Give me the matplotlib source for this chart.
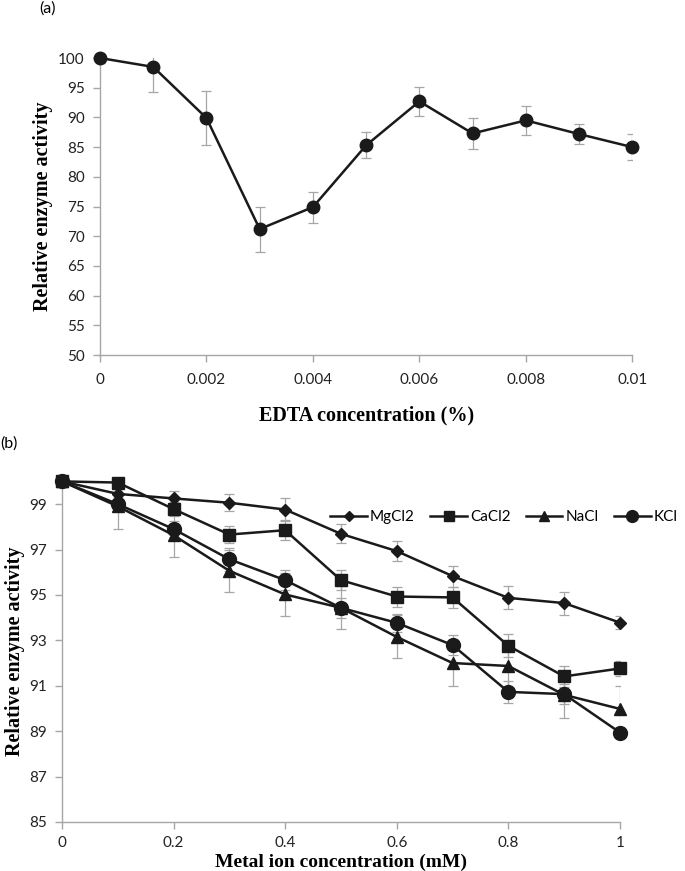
import numpy as np
import matplotlib
matplotlib.use("Agg")
import matplotlib.pyplot as plt

# panel (a): EDTA
edta_conc = [0, 0.001, 0.002, 0.003, 0.004, 0.005, 0.006, 0.007, 0.008, 0.009, 0.01]
edta_act = [100, 98.5, 89.9, 71.2, 74.9, 85.3, 92.7, 87.3, 89.5, 87.2, 85.0]
edta_err = [0.8, 4.2, 4.5, 3.8, 2.6, 2.2, 2.4, 2.6, 2.5, 1.7, 2.2]

# panel (b): metal ions
metal_conc = [0, 0.1, 0.2, 0.3, 0.4, 0.5, 0.6, 0.7, 0.8, 0.9, 1.0]
mgcl2 = [100, 99.45, 99.25, 99.06, 98.76, 97.69, 96.93, 95.83, 94.87, 94.64, 93.78]
mgcl2_err = [0.1, 0.3, 0.32, 0.37, 0.49, 0.42, 0.44, 0.46, 0.51, 0.51, 0.3]
cacl2 = [100, 99.95, 98.78, 97.66, 97.85, 95.65, 94.93, 94.89, 92.76, 91.41, 91.76]
cacl2_err = [0.1, 0.3, 0.3, 0.37, 0.45, 0.43, 0.44, 0.45, 0.5, 0.47, 0.32]
nacl = [100, 98.9, 97.63, 96.06, 95.02, 94.43, 93.15, 92.0, 91.87, 90.6, 89.98]
nacl_err = [0.1, 1.0, 0.95, 0.93, 0.96, 0.95, 0.95, 1.0, 1.0, 1.0, 1.0]
kcl = [100, 99.0, 97.9, 96.57, 95.65, 94.43, 93.77, 92.79, 90.73, 90.63, 88.94]
kcl_err = [0.1, 0.3, 0.35, 0.5, 0.45, 0.45, 0.4, 0.45, 0.5, 0.45, 0.2]
metal_names = ["MgCl2", "CaCl2", "NaCl", "KCl"]

tick_font = "Lato"
label_font = dict(family="Liberation Serif", weight="bold", size=14.5)
grey = "#a6a6a6"
ink = "#1a1a1a"


def style_axes(ax):
    for s in ["top", "right"]:
        ax.spines[s].set_visible(False)
    for s in ["left", "bottom"]:
        ax.spines[s].set_color(grey)
        ax.spines[s].set_linewidth(1.0)
    ax.tick_params(colors=grey, labelcolor="#222222", direction="out", length=5, width=1.0,
                   labelsize=11)
    ax.tick_params(axis="y", pad=6)
    for lab in ax.get_xticklabels() + ax.get_yticklabels():
        lab.set_family(tick_font)


fig = plt.figure(figsize=(6.85, 8.71), dpi=100)

# ---- (a)
ax1 = fig.add_axes([0.146, 0.5924, 0.777, 0.341])
ax1.errorbar(edta_conc, edta_act, yerr=edta_err, fmt="none", ecolor=grey, elinewidth=0.9,
             capsize=3.5, capthick=0.9)
ax1.plot(edta_conc, edta_act, color=ink, lw=1.8, marker="o", ms=9, clip_on=False, zorder=3)
ax1.set_xlim(0, 0.01)
ax1.set_ylim(50, 100)
ax1.set_xticks(np.arange(0, 0.0101, 0.002))
ax1.set_xticklabels(["0", "0.002", "0.004", "0.006", "0.008", "0.01"])
ax1.set_yticks(np.arange(50, 101, 5))
ax1.set_xlabel("EDTA concentration (%)", labelpad=13, **label_font)
ax1.set_ylabel("Relative enzyme activity", labelpad=4, **label_font)
ax1.tick_params(axis="x", pad=8)
style_axes(ax1)
fig.text(0.058, 0.998, "(a)", family=tick_font, fontsize=11.5, va="top")

# ---- (b)
ax2 = fig.add_axes([0.0905, 0.0563, 0.8145, 0.391])
series = [(mgcl2, mgcl2_err, "D", 6), (cacl2, cacl2_err, "s", 8),
          (nacl, nacl_err, "^", 8), (kcl, kcl_err, "o", 10)]
for (vals, errs, mk, ms), name in zip(series, metal_names):
    ax2.errorbar(metal_conc, vals, yerr=errs, fmt="none", ecolor=grey, elinewidth=0.9,
                 capsize=3.5, capthick=0.9)
    ax2.plot(metal_conc, vals, color=ink, lw=1.8, marker=mk, ms=ms, clip_on=False,
             zorder=3, label=name)
ax2.set_xlim(0, 1)
ax2.set_ylim(85, 100)
ax2.set_xticks([0, 0.2, 0.4, 0.6, 0.8, 1.0])
ax2.set_xticklabels(["0", "0.2", "0.4", "0.6", "0.8", "1"])
ax2.set_yticks(np.arange(85, 100, 2))
ax2.set_xlabel("Metal ion concentration (mM)", family="Liberation Serif", weight="bold",
               size=14)
ax2.xaxis.set_label_coords(0.5, -0.12)
ax2.xaxis.label.set_va("center")
ax2.set_ylabel("Relative enzyme activity", labelpad=3, **label_font)
style_axes(ax2)
ax2.tick_params(axis="x", pad=5)
leg = ax2.legend(ncol=4, frameon=False, loc="center left", bbox_to_anchor=(0.47, 0.895),
                 prop=dict(family=tick_font, size=11), handlelength=2.4, handletextpad=0.2,
                 columnspacing=1.0, borderaxespad=0, markerscale=0.85)
fig.text(0.0, 0.499, "(b)", family=tick_font, fontsize=11.5, va="top")

fig.savefig("out.png", dpi=100)
